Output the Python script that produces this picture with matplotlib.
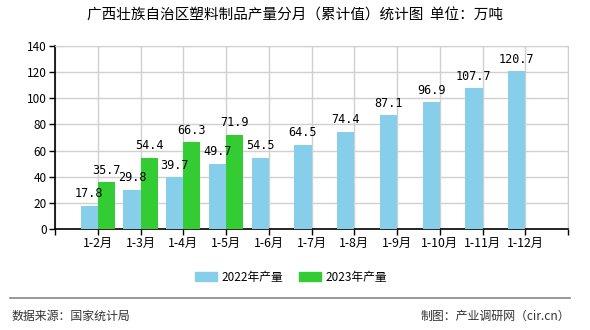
import matplotlib
matplotlib.use("Agg")
import matplotlib.pyplot as plt
from matplotlib.patches import Patch
from matplotlib.lines import Line2D

plt.rcParams['font.family'] = ['Noto Sans CJK SC', 'DejaVu Sans']

months = ["1-2月", "1-3月", "1-4月", "1-5月", "1-6月", "1-7月", "1-8月",
          "1-9月", "1-10月", "1-11月", "1-12月"]
prod_2022 = [17.8, 29.8, 39.7, 49.7, 54.5, 64.5, 74.4, 87.1, 96.9, 107.7, 120.7]
prod_2023 = [35.7, 54.4, 66.3, 71.9]
yticks = [0, 20, 40, 60, 80, 100, 120, 140]

c2022 = "#87CEEB"
c2023 = "#33CC33"

fig = plt.figure(figsize=(5.9, 3.3), dpi=100)
ax = fig.add_axes([55 / 590, 1 - 229 / 330, 513 / 590, 183 / 330])

pos = list(range(1, len(months) + 1))
w = 0.4
b1 = ax.bar([p - w / 2 for p in pos], prod_2022, width=w, color=c2022, zorder=3)
b2 = ax.bar([p + w / 2 for p in pos[:len(prod_2023)]], prod_2023, width=w,
            color=c2023, zorder=3)

for bars, vals in ((b1, prod_2022), (b2, prod_2023)):
    for r, v in zip(bars, vals):
        ax.annotate(f"{v:.1f}", (r.get_x() + r.get_width() / 2, v),
                    xytext=(0, 4), textcoords="offset points",
                    ha="center", va="bottom", fontsize=8.5,
                    family="DejaVu Sans Mono", zorder=4)

ax.set_xlim(0, len(months) + 1)
ax.set_ylim(0, 140)
ax.set_yticks(yticks)
ax.set_yticklabels([str(t) for t in yticks], fontsize=8.5)
ax.set_xticks(range(0, len(months) + 2))
ax.set_xticklabels([""] + months + [""], fontsize=8.8)
ax.grid(True, color="#d0d0d0", linewidth=1, zorder=0)
ax.tick_params(axis="both", direction="out", length=4, width=1, color="black", pad=2)
for s in ("top", "right"):
    ax.spines[s].set_color("#d0d0d0")
for s in ("left", "bottom"):
    ax.spines[s].set_color("black")
    ax.spines[s].set_linewidth(1.2)

fig.text(0.5, 1 - 16 / 330, "广西壮族自治区塑料制品产量分月（累计值）统计图  单位：万吨",
         ha="center", va="center", fontsize=10.5, fontweight="medium")

handles = [Patch(color=c2022, label="2022年产量"), Patch(color=c2023, label="2023年产量")]
fig.legend(handles=handles, loc="center", bbox_to_anchor=(291 / 590, 1 - 277 / 330),
           ncol=2, frameon=False, fontsize=8.5, handlelength=1.85, handleheight=0.75,
           columnspacing=1.35, handletextpad=0.4, borderpad=0, borderaxespad=0)

fig.add_artist(Line2D([10 / 590, 570 / 590], [1 - 298 / 330] * 2,
                      color="#888888", linewidth=1.2, transform=fig.transFigure))
fig.text(11 / 590, 1 - 316 / 330, "数据来源：国家统计局", ha="left", va="center",
         fontsize=8.6, color="#333333")
fig.text(570 / 590, 1 - 316 / 330, "制图：产业调研网（cir.cn）", ha="right", va="center",
         fontsize=8.6, color="#333333")

fig.savefig("out.png", dpi=100)
